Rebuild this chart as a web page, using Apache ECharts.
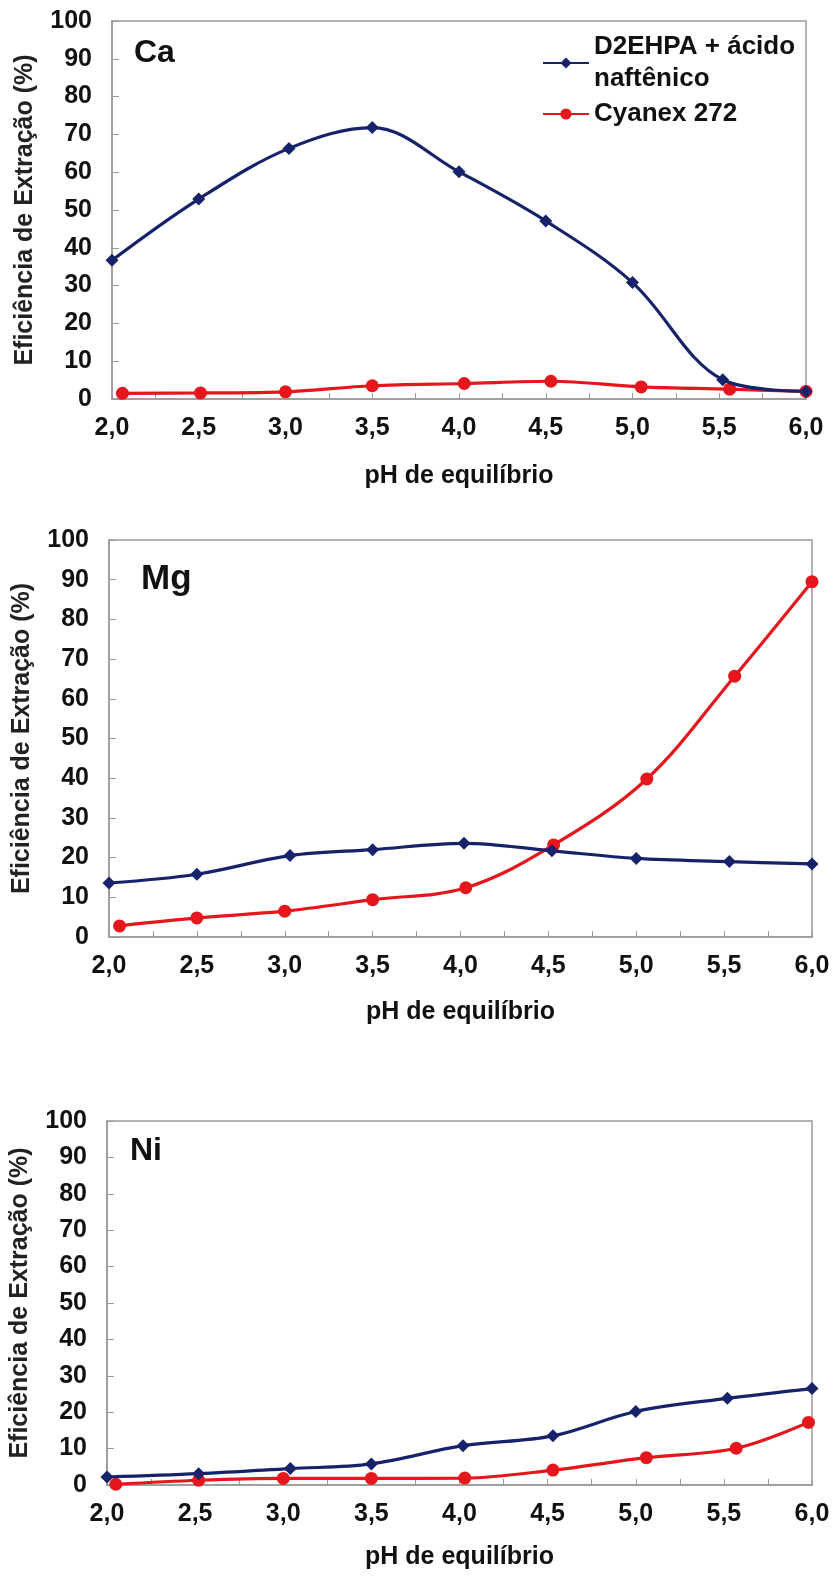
<!DOCTYPE html>
<html>
<head>
<meta charset="utf-8">
<script src="https://cdn.jsdelivr.net/npm/echarts@6/dist/echarts.min.js"></script>
<style>
html,body{margin:0;padding:0;background:#fff;}
#c{width:834px;height:1578px;}
</style>
</head>
<body>
<div id="c"></div>
<script>
// ---- data ----
var seriesNames = ['D2EHPA + ácido naftênico', 'Cyanex 272'];
var panelLabels = ['Ca', 'Mg', 'Ni'];
var xTicks = [2.0, 2.5, 3.0, 3.5, 4.0, 4.5, 5.0, 5.5, 6.0];
var yTicks = [0, 10, 20, 30, 40, 50, 60, 70, 80, 90, 100];

var caD2X = [2.0, 2.5, 3.02, 3.5, 4.0, 4.5, 5.0, 5.52, 6.0];
var caD2Y = [36.7, 52.9, 66.3, 71.8, 60.1, 47.1, 30.8, 5.1, 2.0];
var caCyX = [2.06, 2.51, 3.0, 3.5, 4.03, 4.53, 5.05, 5.56, 6.0];
var caCyY = [1.5, 1.6, 1.9, 3.5, 4.1, 4.7, 3.2, 2.6, 2.0];

var mgD2X = [2.0, 2.5, 3.03, 3.5, 4.02, 4.52, 5.0, 5.53, 6.0];
var mgD2Y = [13.6, 15.8, 20.5, 22.0, 23.6, 21.7, 19.8, 19.0, 18.4];
var mgCyX = [2.06, 2.5, 3.0, 3.5, 4.03, 4.53, 5.06, 5.56, 6.0];
var mgCyY = [2.8, 4.8, 6.5, 9.4, 12.4, 23.2, 39.8, 65.7, 89.5];

var niD2X = [2.0, 2.52, 3.04, 3.5, 4.02, 4.53, 5.0, 5.52, 6.0];
var niD2Y = [2.2, 3.1, 4.5, 5.8, 10.8, 13.5, 20.2, 23.8, 26.5];
var niCyX = [2.05, 2.52, 3.0, 3.5, 4.03, 4.53, 5.06, 5.57, 5.98];
var niCyY = [0.2, 1.3, 1.8, 1.8, 1.9, 4.1, 7.5, 10.1, 17.2];

var xTitle = 'pH de equilíbrio';
var yTitle = 'Eficiência de Extração (%)';

// ---- helpers ----
function pairs(xs, ys) { return xs.map(function (x, i) { return [x, ys[i]]; }); }
var BLUE = '#16226a', RED = '#e5161c', BORDER = '#9a9a9a';
var FONT = 'Liberation Sans, Arial, sans-serif';

var grids = [
  { left: 112, top: 21, width: 694, height: 378 },
  { left: 109, top: 540, width: 703, height: 397 },
  { left: 107, top: 1121, width: 705, height: 364 }
];
var nameGaps = [65, 63, 60];
var labelPos = [
  { left: 134, top: 37, size: 32 },
  { left: 141, top: 562, size: 35 },
  { left: 130, top: 1135, size: 32 }
];
var panelData = [
  [pairs(caD2X, caD2Y), pairs(caCyX, caCyY)],
  [pairs(mgD2X, mgD2Y), pairs(mgCyX, mgCyY)],
  [pairs(niD2X, niD2Y), pairs(niCyX, niCyY)]
];

var option = {
  backgroundColor: '#fff',
  animation: false,
  textStyle: { fontFamily: FONT },
  title: panelLabels.map(function (t, i) {
    return {
      text: t, left: labelPos[i].left, top: labelPos[i].top, padding: 0,
      textStyle: { fontFamily: FONT, fontSize: labelPos[i].size, fontWeight: 'bold', color: '#111' }
    };
  }),
  grid: grids.map(function (g) {
    return { left: g.left, top: g.top, width: g.width, height: g.height, show: true,
      borderColor: BORDER, borderWidth: 1.5, backgroundColor: 'transparent' };
  }),
  legend: {
    left: 542, top: 15, orient: 'vertical', itemGap: -13, padding: 0,
    itemWidth: 46, itemHeight: 14,
    data: [
      { name: seriesNames[0], textStyle: { padding: [32, 0, 0, 0] } },
      { name: seriesNames[1] }
    ],
    formatter: function (n) { return n === seriesNames[0] ? 'D2EHPA + ácido\nnaftênico' : n; },
    textStyle: { fontFamily: FONT, fontSize: 26, fontWeight: 'bold', color: '#111', lineHeight: 32 }
  },
  xAxis: grids.map(function (g, i) {
    return {
      type: 'value', gridIndex: i, min: xTicks[0], max: xTicks[xTicks.length - 1], interval: 0.5,
      name: xTitle, nameLocation: 'middle', nameGap: nameGaps[i],
      nameTextStyle: { fontFamily: FONT, fontSize: 25, fontWeight: 'bold', color: '#111' },
      axisLine: { show: true, lineStyle: { color: BORDER, width: 1.5 } },
      axisTick: { show: true, inside: true, length: 6, lineStyle: { color: BORDER } },
      minorTick: { show: true, splitNumber: 2, length: 6, lineStyle: { color: BORDER } },
      splitLine: { show: false },
      axisLabel: { margin: 17, fontFamily: FONT, fontSize: 25, fontWeight: 'bold', color: '#111',
        formatter: function (v) { return v.toFixed(1).replace('.', ','); } }
    };
  }),
  yAxis: grids.map(function (g, i) {
    return {
      type: 'value', gridIndex: i, min: yTicks[0], max: yTicks[yTicks.length - 1], interval: 10,
      name: yTitle, nameLocation: 'middle', nameGap: 74, nameRotate: 90,
      nameTextStyle: { fontFamily: FONT, fontSize: 25, fontWeight: 'bold', color: '#222' },
      axisLine: { show: true, lineStyle: { color: BORDER, width: 1.5 } },
      axisTick: { show: true, inside: true, length: 7, lineStyle: { color: BORDER } },
      splitLine: { show: false },
      axisLabel: { margin: 20, fontFamily: FONT, fontSize: 25, fontWeight: 'bold', color: '#111' }
    };
  }),
  series: []
};

panelData.forEach(function (pd, i) {
  option.series.push({
    name: seriesNames[0], type: 'line', xAxisIndex: i, yAxisIndex: i, data: pd[0],
    smooth: 0.35, symbol: 'diamond', symbolSize: 13, z: 3,
    lineStyle: { color: BLUE, width: 3.2 }, itemStyle: { color: BLUE }
  });
  option.series.push({
    name: seriesNames[1], type: 'line', xAxisIndex: i, yAxisIndex: i, data: pd[1],
    smooth: 0.35, symbol: 'circle', symbolSize: 13, z: 2,
    lineStyle: { color: RED, width: 3.2 }, itemStyle: { color: RED }
  });
});

var chart = echarts.init(document.getElementById('c'), null, { renderer: 'canvas' });
chart.setOption(option);
</script>
</body>
</html>
